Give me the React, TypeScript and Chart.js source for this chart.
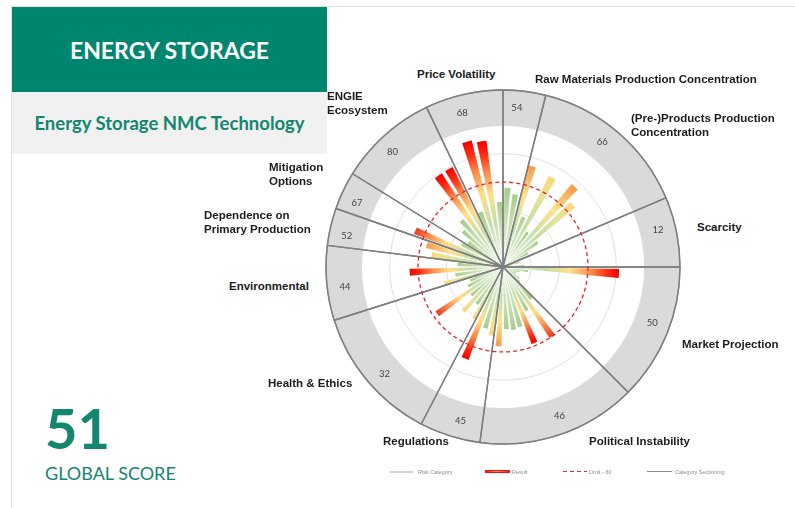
import React, { useEffect, useRef } from "react";
import { Chart, registerables } from "chart.js";

Chart.register(...registerables);

// ---------- DATA ----------
const categories = [
  "Raw Materials Production Concentration",
  "(Pre-)Products Production Concentration",
  "Scarcity",
  "Market Projection",
  "Political Instability",
  "Regulations",
  "Health & Ethics",
  "Environmental",
  "Dependence on Primary Production",
  "Mitigation Options",
  "ENGIE Ecosystem",
  "Price Volatility",
];
const categoryScores = [54, 66, 12, 50, 46, 45, 32, 44, 52, 67, 80, 68];
// angular span of every category sector (degrees, clockwise from top)
const categorySpanDeg = [14, 53, 23, 45, 52.5, 20, 45, 24.5, 12.3, 12.5, 32.6, 25.6];

// result bars, clockwise from top (56 equally spaced indicators)
const resultValues = [
  56, 52,
  74, 38, 72, 30, 76, 66, 30, 20,
  8, 12, 6, 15,
  82, 18, 12, 10, 10, 14, 16,
  30, 60, 35, 58, 44, 45, 44, 56,
  49, 45, 70,
  42, 32, 42, 30, 57, 28, 25,
  43, 34, 66, 32,
  51, 56,
  67, 33,
  30, 38, 44, 79, 79,
  42, 92, 90, 46,
];
// colour level of every bar tip (0 green, 1 yellow, 2 orange, 3 orange-red, 4 red)
const resultRisk = [
  0, 0,
  2, 0, 1, 0, 2, 1, 0, 0,
  0, 0, 0, 0,
  4, 0, 0, 0, 0, 0, 0,
  0, 3, 0, 4, 0, 0, 0, 2,
  1, 0, 4,
  1, 0, 1, 0, 3, 0, 0,
  1, 0, 4, 0,
  1, 2,
  3, 0,
  0, 0, 0, 4, 4,
  0, 4, 4, 0,
];
const limitValue = 60;
const gridValues = [0, 20, 40, 80, 100];
const ringInner = 100;
const ringOuter = 125;

// ---------- build series for the library ----------
const slotDeg = 360 / resultValues.length;
const barDeg = slotDeg * 0.68;
const gapDeg = slotDeg - barDeg;
const barSeries: number[] = [0];
const barAngles: number[] = [gapDeg / 2];
const barRiskSeq: number[] = [-1];
resultValues.forEach((v, i) => {
  barSeries.push(v);
  barAngles.push(barDeg);
  barRiskSeq.push(resultRisk[i]);
  barSeries.push(0);
  barAngles.push(i === resultValues.length - 1 ? gapDeg / 2 : gapDeg);
  barRiskSeq.push(-1);
});

const riskStops: [number, string][][] = [
  [[0, "#f3f8ee"], [0.5, "#cde4bb"], [1, "#a6cf8a"]],
  [[0, "#f3f8ee"], [0.45, "#c3deaa"], [0.8, "#e8e497"], [1, "#fdd677"]],
  [[0, "#f3f8ee"], [0.4, "#c3deaa"], [0.7, "#ffe48f"], [1, "#f59a4a"]],
  [[0, "#f3f8ee"], [0.4, "#c3deaa"], [0.65, "#ffe08a"], [0.85, "#f7874a"], [1, "#ee3b22"]],
  [[0, "#f3f8ee"], [0.35, "#c3deaa"], [0.58, "#ffe08a"], [0.76, "#f88a4a"], [0.9, "#ff2a10"], [1, "#f50000"]],
];

function rScale(chart: any) {
  const s = chart && chart.scales && chart.scales.r;
  return s && typeof s.getDistanceFromCenterForValue === "function" ? s : null;
}

const ringLabelsPlugin = {
  id: "ringLabels",
  afterDatasetsDraw(chart: any) {
    const s = rScale(chart);
    if (!s) return;
    const ctx = chart.ctx;
    const rr = s.getDistanceFromCenterForValue((ringInner + ringOuter) / 2);
    let a = 0;
    ctx.save();
    ctx.font = "9.5px Lato, 'Open Sans', sans-serif";
    ctx.fillStyle = "#444444";
    ctx.textAlign = "center";
    ctx.textBaseline = "middle";
    categorySpanDeg.forEach((w, i) => {
      const mid = ((a + w / 2 - 2) * Math.PI) / 180;
      a += w;
      ctx.fillText(String(categoryScores[i]), s.xCenter + rr * Math.sin(mid), s.yCenter - rr * Math.cos(mid));
    });
    ctx.restore();
  },
};

function RadarChart() {
  const ref = useRef<HTMLCanvasElement>(null);
  useEffect(() => {
    if (!ref.current) return;
    const chart = new Chart(ref.current, {
      type: "polarArea",
      data: {
        labels: barSeries.map(() => ""),
        datasets: [
          {
            label: "Category Sectioning",
            data: categorySpanDeg.map(() => ringOuter),
            angle: (c: any) => categorySpanDeg[c.dataIndex],
            backgroundColor: "rgba(0,0,0,0)",
            borderColor: "#7f7f7f",
            borderWidth: 1.4,
            borderAlign: "center",
            order: 0,
          } as any,
          {
            label: "Result",
            data: barSeries,
            angle: (c: any) => barAngles[c.dataIndex],
            borderWidth: 0,
            backgroundColor: (c: any) => {
              if (c.type !== "data") return "rgba(0,0,0,0)";
              const risk = barRiskSeq[c.dataIndex];
              if (risk == null || risk < 0) return "rgba(0,0,0,0)";
              const s = rScale(c.chart);
              if (!s || !isFinite(s.xCenter)) return "#a8d08d";
              const R = Math.max(s.getDistanceFromCenterForValue(c.raw), 1);
              const g = c.chart.ctx.createRadialGradient(s.xCenter, s.yCenter, 0, s.xCenter, s.yCenter, R);
              riskStops[risk].forEach(([p, col]) => g.addColorStop(p, col));
              return g;
            },
            order: 1,
          } as any,
        ],
      },
      options: {
        animation: false,
        responsive: true,
        maintainAspectRatio: false,
        layout: { padding: 5 },
        plugins: { legend: { display: false }, tooltip: { enabled: false } },
        scales: {
          r: {
            type: "radialLinear",
            axis: "r",
            min: 0,
            max: ringOuter,
            startAngle: 0,
            angleLines: { display: false },
            pointLabels: { display: false },
            ticks: { display: false },
            afterBuildTicks: (s: any) => {
              s.ticks = [...gridValues, (ringInner + ringOuter) / 2, ringOuter].map((v) => ({ value: v }));
            },
            grid: {
              circular: true,
              color: (c: any) => {
                const v = c.tick && c.tick.value;
                if (v === ringOuter) return "#9a9a9a";
                if (v === (ringInner + ringOuter) / 2) return "#dadada";
                return "#e0e0e0";
              },
              lineWidth: (c: any) => {
                const v = c.tick && c.tick.value;
                const s = rScale(c.chart);
                if (v === (ringInner + ringOuter) / 2 && s) {
                  return s.getDistanceFromCenterForValue(ringOuter) - s.getDistanceFromCenterForValue(ringInner);
                }
                if (v === ringOuter) return 1.4;
                return 1;
              },
            },
          } as any,
          lim: {
            type: "radialLinear",
            axis: "r",
            position: "chartArea",
            min: 0,
            max: ringOuter,
            startAngle: 0,
            angleLines: { display: false },
            pointLabels: { display: false },
            ticks: { display: false, z: 1 },
            afterBuildTicks: (s: any) => {
              s.ticks = [{ value: 0 }, { value: limitValue }];
            },
            grid: { circular: true, color: "#e2272b", lineWidth: 1.3, z: 1 },
            border: { dash: [4, 3] },
          } as any,
        },
      } as any,
      plugins: [ringLabelsPlugin],
    });
    return () => chart.destroy();
  }, []);
  return (
    <div style={{ position: "absolute", left: 321, top: 85, width: 364, height: 364 }}>
      <canvas ref={ref} />
    </div>
  );
}

const labelStyle: React.CSSProperties = {
  position: "absolute",
  fontFamily: "'Liberation Sans', Arial, sans-serif",
  fontWeight: 700,
  fontSize: 11.5,
  lineHeight: "14px",
  color: "#1c1c1c",
  whiteSpace: "nowrap",
};

const legendText: React.CSSProperties = {
  position: "absolute",
  fontFamily: "'Liberation Sans', Arial, sans-serif",
  fontSize: 5.5,
  lineHeight: "8px",
  color: "#8c8c8c",
  whiteSpace: "nowrap",
  top: 468,
};

export default function App() {
  const teal = "#00856f";
  return (
    <div
      style={{
        position: "absolute",
        left: 0,
        top: 0,
        width: 795,
        height: 508,
        overflow: "hidden",
        background: "#ffffff",
      }}
    >
      <div style={{ position: "absolute", left: 11, top: 6, width: 784, height: 1, background: "#e2e2e2" }} />
      <div style={{ position: "absolute", left: 11, top: 6, width: 1, height: 502, background: "#e2e2e2" }} />
      <div
        style={{
          position: "absolute",
          left: 12,
          top: 7,
          width: 315,
          height: 85,
          background: teal,
          color: "#ffffff",
          fontFamily: "Lato, 'Open Sans', sans-serif",
          fontWeight: 700,
          fontSize: 23,
          display: "flex",
          alignItems: "center",
          justifyContent: "center",
        }}
      >
        ENERGY STORAGE
      </div>
      <div
        style={{
          position: "absolute",
          left: 12,
          top: 92,
          width: 315,
          height: 62,
          background: "#f1f1f1",
          color: "#13866f",
          fontFamily: "Lato, 'Open Sans', sans-serif",
          fontWeight: 700,
          fontSize: 18.5,
          display: "flex",
          alignItems: "center",
          justifyContent: "center",
        }}
      >
        Energy Storage NMC Technology
      </div>
      <div
        style={{
          position: "absolute",
          left: 45,
          top: 400,
          fontFamily: "Lato, 'Open Sans', sans-serif",
          fontWeight: 700,
          fontSize: 56,
          lineHeight: 1,
          color: "#13866f",
        }}
      >
        51
      </div>
      <div
        style={{
          position: "absolute",
          left: 45,
          top: 464,
          fontFamily: "Lato, 'Open Sans', sans-serif",
          fontSize: 18,
          lineHeight: 1,
          color: "#13866f",
        }}
      >
        GLOBAL SCORE
      </div>

      <RadarChart />

      <div style={{ ...labelStyle, left: 417, top: 67 }}>{categories[11]}</div>
      <div style={{ ...labelStyle, left: 535, top: 72 }}>{categories[0]}</div>
      <div style={{ ...labelStyle, left: 631, top: 111 }}>
        (Pre-)Products Production
        <br />
        Concentration
      </div>
      <div style={{ ...labelStyle, left: 697, top: 220 }}>{categories[2]}</div>
      <div style={{ ...labelStyle, left: 682, top: 337 }}>{categories[3]}</div>
      <div style={{ ...labelStyle, left: 589, top: 434 }}>{categories[4]}</div>
      <div style={{ ...labelStyle, left: 383, top: 434 }}>{categories[5]}</div>
      <div style={{ ...labelStyle, left: 268, top: 376 }}>{categories[6]}</div>
      <div style={{ ...labelStyle, left: 229, top: 279 }}>{categories[7]}</div>
      <div style={{ ...labelStyle, left: 204, top: 208 }}>
        Dependence on
        <br />
        Primary Production
      </div>
      <div style={{ ...labelStyle, left: 269, top: 160 }}>
        Mitigation
        <br />
        Options
      </div>
      <div style={{ ...labelStyle, left: 327, top: 89 }}>
        ENGIE
        <br />
        Ecosystem
      </div>

      {/* legend */}
      <div style={{ position: "absolute", left: 390, top: 471, width: 23, height: 2, background: "#d3d3d3" }} />
      <div style={{ ...legendText, left: 418 }}>Risk Category</div>
      <div
        style={{
          position: "absolute",
          left: 485,
          top: 470,
          width: 25,
          height: 3,
          background: "linear-gradient(to right, #e8150c, #f6a04c 50%, #e8150c)",
          border: "1px solid #e8150c",
          boxSizing: "border-box",
        }}
      />
      <div style={{ ...legendText, left: 512 }}>Result</div>
      <div
        style={{
          position: "absolute",
          left: 563,
          top: 471,
          width: 24,
          height: 1,
          background: "repeating-linear-gradient(to right, #e2272b 0px, #e2272b 4px, rgba(255,255,255,0) 4px, rgba(255,255,255,0) 7px)",
        }}
      />
      <div style={{ ...legendText, left: 589 }}>Limit - 60</div>
      <div style={{ position: "absolute", left: 647, top: 471, width: 25, height: 1, background: "#8c8c8c" }} />
      <div style={{ ...legendText, left: 675 }}>Category Sectioning</div>
    </div>
  );
}
